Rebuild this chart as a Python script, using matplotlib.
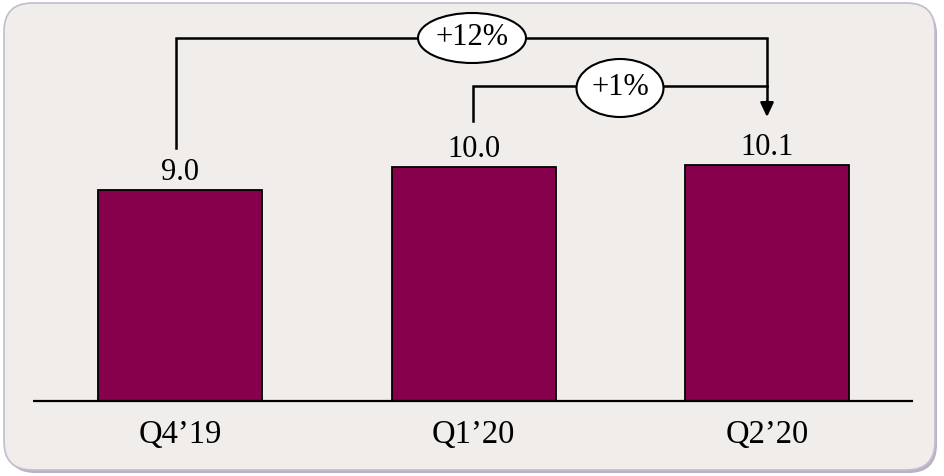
import matplotlib
matplotlib.use("Agg")
import matplotlib.pyplot as plt
from matplotlib.patches import FancyBboxPatch, Ellipse

# Data
categories = ["Q4\u201919", "Q1\u201920", "Q2\u201920"]
values = [9.0, 10.0, 10.1]
value_labels = ["9.0", "10.0", "10.1"]
growth_labels = ["+12%", "+1%"]

BAR_COLOR = "#86004C"
PANEL_COLOR = "#F0EDEA"
BORDER_COLOR = "#C4BBD3"
FONT = ["Liberation Serif", "DejaVu Serif"]

W, H, DPI = 944, 476, 100
fig = plt.figure(figsize=(W / DPI, H / DPI), dpi=DPI)
fig.patch.set_facecolor("white")

# Rounded panel with a soft shadow
def fx(px):
    return px / W

def fy(py):
    return 1 - py / H

shadow = FancyBboxPatch((fx(7), fy(473)), fx(937) - fx(7), fy(6) - fy(473),
                        boxstyle="round,pad=0,rounding_size=0.03",
                        transform=fig.transFigure, facecolor="#B9B2C2",
                        edgecolor="none", mutation_aspect=W / H, zorder=0)
fig.patches.append(shadow)
panel = FancyBboxPatch((fx(4), fy(470)), fx(935) - fx(4), fy(3) - fy(470),
                       boxstyle="round,pad=0,rounding_size=0.03",
                       transform=fig.transFigure, facecolor=PANEL_COLOR,
                       edgecolor=BORDER_COLOR, linewidth=1.2,
                       mutation_aspect=W / H, zorder=1)
fig.patches.append(panel)

# Axes covering the whole figure; data units mapped onto pixel layout
ax = fig.add_axes([0, 0, 1, 1])
ax.set_facecolor("none")
ax.set_zorder(2)
x0_px, step_px = 180.0, 293.5
base_px, unit_px = 401.0, 23.4
ax.set_xlim(-x0_px / step_px, (W - x0_px) / step_px)
ax.set_ylim(-(H - base_px) / unit_px, base_px / unit_px)
ax.axis("off")

def dx(px):
    return (px - x0_px) / step_px

def dy(py):
    return (base_px - py) / unit_px

xs = list(range(len(categories)))
ax.bar(xs, values, width=164 / step_px, color=BAR_COLOR,
       edgecolor="black", linewidth=1.3, zorder=3)

# Baseline
ax.plot([dx(33), dx(913)], [0, 0], color="black", lw=1.6, zorder=4,
        solid_capstyle="butt")

# Value labels above bars
for x, v, lab in zip(xs, values, value_labels):
    ax.text(x, v + 10 / unit_px, lab, ha="center", va="baseline",
            fontsize=22, family=FONT, color="black", zorder=5)

# Category labels
for x, c in zip(xs, categories):
    ax.text(x, dy(443), c, ha="center", va="baseline", fontsize=23.5,
            family=FONT, color="black", zorder=5)

lw = 1.8
# +12% bracket: Q4'19 -> Q2'20
ax.plot([dx(176), dx(176), dx(767), dx(767)],
        [dy(148), dy(38), dy(38), dy(102)],
        color="black", lw=lw, zorder=4, solid_joinstyle="miter")
# +1% bracket: Q1'20 -> Q2'20
ax.plot([dx(473), dx(473), dx(767)],
        [dy(121), dy(86), dy(86)],
        color="black", lw=lw, zorder=4, solid_joinstyle="miter")
# Arrow head
ax.annotate("", xy=(dx(767), dy(117)), xytext=(dx(767), dy(101)),
            arrowprops=dict(arrowstyle="-|>,head_length=0.85,head_width=0.4",
                            color="black", lw=lw, shrinkA=0, shrinkB=0),
            zorder=5)

# Growth ellipses
for (cx, cy, w, h), lab in zip([(472, 38, 108, 50), (620, 88, 87, 58)],
                               growth_labels):
    e = Ellipse((dx(cx), dy(cy)), w / step_px, h / unit_px,
                facecolor="white", edgecolor="black", lw=1.5, zorder=6)
    ax.add_patch(e)
    ax.text(dx(cx), dy(cy), lab, ha="center", va="center", fontsize=22,
            family=FONT, color="black", zorder=7)

fig.savefig("out.png", dpi=DPI, facecolor=fig.get_facecolor())
